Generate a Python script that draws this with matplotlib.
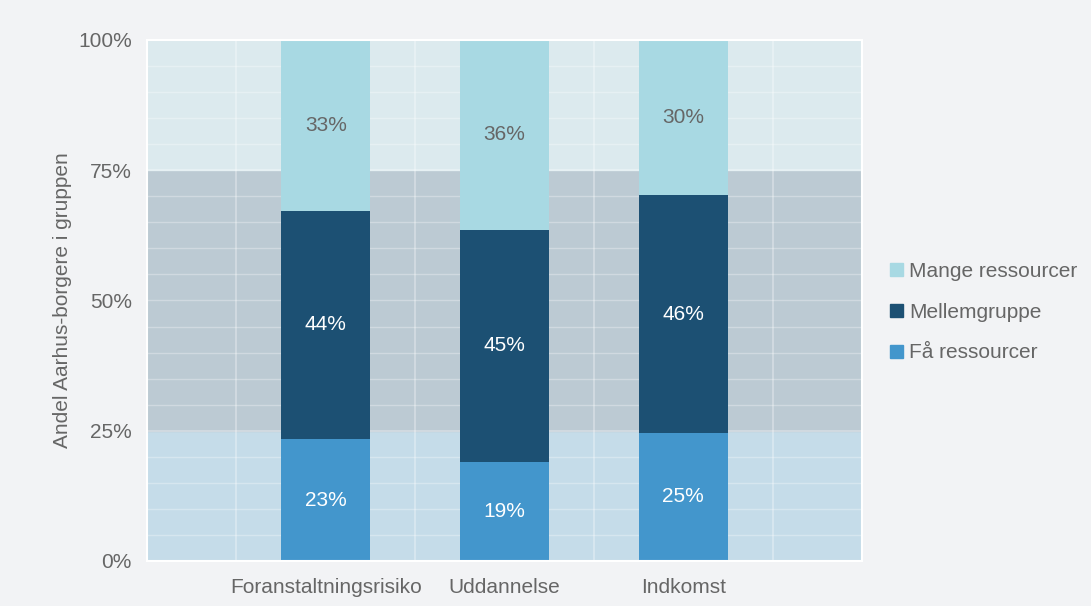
import numpy as np
import matplotlib.pyplot as plt
from matplotlib.patches import Patch

plt.rcParams['font.family'] = ['Liberation Sans', 'DejaVu Sans']

categories = ['Foranstaltningsrisiko', 'Uddannelse', 'Indkomst']
faa = [23.4, 19.0, 24.6]
mellem = [43.8, 44.6, 45.6]
mange = [32.8, 36.4, 29.8]
series_names = ['Få ressourcer', 'Mellemgruppe', 'Mange ressourcer']
colors = ['#4396cc', '#1c5073', '#a8d9e3']
label_colors = ['white', 'white', '#666666']
yticks = [0, 25, 50, 75, 100]

bg = '#f2f3f5'
fs = 15
fig = plt.figure(figsize=(10.91, 6.06), dpi=100, facecolor=bg)
ax = fig.add_axes([0.1347, 0.0743, 0.6555, 0.8597])
ax.set_facecolor(bg)

# background bands
ax.axhspan(0, 25, color='#c5dce9', zorder=0)
ax.axhspan(25, 75, color='#bccad3', zorder=0)
ax.axhspan(75, 100, color='#dceaee', zorder=0)

for y in np.arange(5, 100, 5):
    lw = 1.5 if y in (25, 75) else 1
    ax.axhline(y, color='white', alpha=0.3, lw=lw, zorder=1)
for x in [0.5, 1.5, 2.5, 3.5]:
    ax.axvline(x, color='white', alpha=0.3, lw=1.5, zorder=1)

x = np.arange(1, len(categories) + 1)
bottom = np.zeros(len(categories))
for vals, name, c, lc in zip([faa, mellem, mange], series_names, colors, label_colors):
    vals = np.array(vals)
    ax.bar(x, vals, 0.5, bottom=bottom, color=c, zorder=2, label=name)
    for xi, b, v in zip(x, bottom, vals):
        ax.text(xi, b + v / 2, f'{int(v + 0.5)}%', ha='center', va='center',
                color=lc, fontsize=fs, zorder=3)
    bottom += vals

ax.set_xlim(0, 4)
ax.set_ylim(0, 100)
ax.set_xticks(x)
ax.set_xticklabels(categories)
ax.set_yticks(yticks)
ax.set_yticklabels([f'{t}%' for t in yticks])
ax.tick_params(length=0, colors='#666666', labelsize=fs)
ax.tick_params(axis='x', pad=12)
ax.tick_params(axis='y', pad=11)
for s in ax.spines.values():
    s.set_color('white')
    s.set_linewidth(1.5)
ax.set_ylabel('Andel Aarhus-borgere i gruppen', color='#666666', fontsize=fs, labelpad=4)

handles = [Patch(color=c) for c in colors[::-1]]
leg = fig.legend(handles, series_names[::-1], loc='center left', bbox_to_anchor=(0.799, 0.485),
                 frameon=False, handlelength=0.6, handleheight=0.6, handletextpad=0.3,
                 labelspacing=1.05, fontsize=fs, labelcolor='#666666')

fig.savefig('out.png', dpi=100, facecolor=bg)
